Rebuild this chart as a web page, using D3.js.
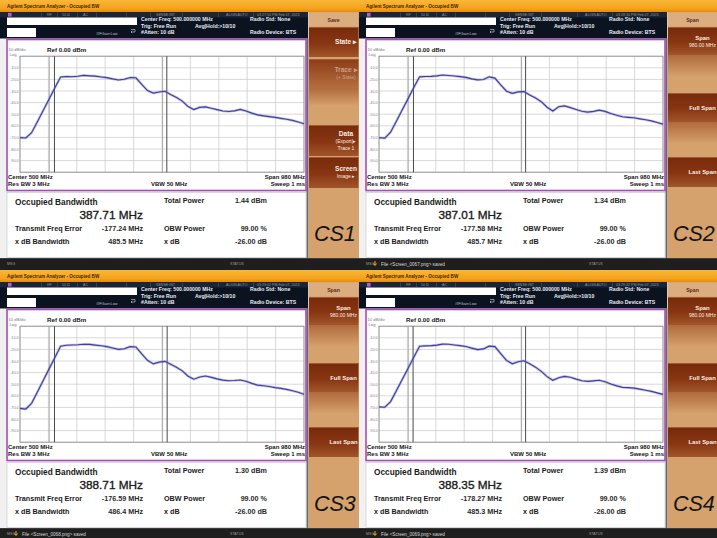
<!DOCTYPE html>
<html><head><meta charset="utf-8">
<script src="https://cdn.jsdelivr.net/npm/d3@7"></script>
<style>
html,body{margin:0;padding:0;background:#1a1a1a;}
svg{display:block;font-family:"Liberation Sans",Arial,sans-serif;}
</style></head><body>
<svg id="chart" width="717" height="538"></svg>
<script>
// Sweep points (MHz) shared by all four traces
const sweepFreqMHz = [10,30,50,70,90,110,130,150,170,190,210,230,250,270,290,310,330,350,370,390,
  410,430,450,470,490,510,530,550,570,590,610,630,650,670,690,710,730,750,770,790,
  810,830,850,870,890,910,930,950,970,990];

// Averaged trace levels (dBm) for each capture
const traceCS1 = [-70.2,-70.5,-66.0,-56.5,-46.8,-37.2,-27.4,-17.9,-17.6,-17.7,-17.3,-16.5,-16.9,-17.2,-17.9,-18.5,-19.6,-20.5,-19.9,-18.4,
  -18.6,-24.3,-29.6,-31.8,-30.9,-30.2,-33.1,-35.6,-38.7,-43.4,-46.0,-44.1,-43.7,-44.9,-46.1,-47.2,-47.7,-47.1,-45.9,-47.3,
  -49.1,-50.6,-51.4,-52.1,-52.7,-53.6,-54.4,-55.3,-56.7,-58.2];
const traceCS2 = [-70.3,-70.6,-65.5,-56.0,-46.3,-36.8,-27.0,-17.8,-17.5,-17.4,-16.9,-16.2,-16.6,-17.1,-17.6,-18.3,-19.5,-20.4,-20.1,-17.8,
  -18.9,-24.8,-30.2,-32.0,-30.8,-30.5,-33.4,-36.0,-39.2,-44.0,-47.3,-43.6,-42.8,-44.3,-45.9,-47.5,-48.2,-47.6,-46.5,-47.6,
  -49.4,-50.9,-52.2,-52.7,-53.1,-54.0,-54.8,-55.8,-57.2,-58.6];
const traceCS3 = [-70.8,-71.4,-66.5,-56.8,-46.9,-37.0,-27.2,-17.2,-16.4,-16.2,-16.0,-15.6,-15.7,-16.3,-16.9,-17.6,-18.8,-20.0,-19.4,-17.6,
  -17.9,-23.9,-29.4,-32.5,-31.0,-30.3,-32.8,-35.4,-38.5,-43.1,-45.7,-43.8,-42.9,-44.1,-45.4,-46.5,-47.0,-46.8,-46.4,-47.4,
  -49.3,-50.8,-51.3,-52.0,-52.9,-53.6,-54.5,-55.6,-57.0,-58.7];
const traceCS4 = [-69.6,-69.9,-65.0,-55.6,-46.0,-36.5,-26.8,-17.3,-16.9,-16.8,-16.3,-15.4,-15.6,-16.2,-16.8,-17.5,-18.9,-20.2,-19.6,-17.2,
  -17.6,-23.6,-29.5,-32.4,-30.6,-29.8,-32.4,-35.3,-38.9,-43.5,-46.6,-44.4,-43.3,-44.0,-45.6,-47.0,-47.5,-47.1,-46.6,-47.9,
  -49.8,-51.4,-52.7,-53.0,-53.4,-54.3,-55.2,-56.2,-57.5,-58.8];

// Measurement results
const captureNames = ["CS1", "CS2", "CS3", "CS4"];
const totalPowerDbm = [1.44, 1.34, 1.30, 1.39];
const occupiedBwMHz = [387.71, 387.01, 388.71, 388.35];
const freqErrorMHz = [-177.24, -177.58, -176.59, -178.27];
const xdbBandwidthMHz = [485.5, 485.7, 486.4, 485.3];
const obwPowerPct = 99.00;
const xdbSettingDb = -26.00;

// Instrument settings
const centerFreqMHz = 500;
const spanMHz = 980;
const refLevelDbm = 0;
const dbPerDiv = 10;
const yTickLabels = ["-10.0", "-20.0", "-30.0", "-40.0", "-50.0", "-60.0", "-70.0", "-80.0", "-90.0"];
const guideFreqMHz = [111, 502];
const timestamps = ["03:27:50 PM Feb 07, 2023", "03:28:30 PM Feb 07, 2023", "03:29:02 PM Feb 07, 2023", "03:29:32 PM Feb 07, 2023"];
const statusMessages = ["", "File <Screen_0067.png> saved", "File <Screen_0068.png> saved", "File <Screen_0069.png> saved"];
const menuTitles = ["Save", "Span", "Span", "Span"];
const saveMenuLabels = [["State \u25B8"], ["Trace \u25B8", "(+ State)"], ["Data", "(Export)\u25B8", "Trace 1"], ["Screen", "Image \u25B8"]];
const spanMenuLabels = [["Span", "980.00 MHz"], ["Full Span"], ["Last Span"]];
const traces = [traceCS1, traceCS2, traceCS3, traceCS4];

const W = 359, H = 270;
const origins = [[0, 0], [359, 0], [0, 270], [359, 270]];

const svg = d3.select("#chart");
svg.append("rect").attr("width", 717).attr("height", 538).attr("fill", "#1a1a1a");
const defs = svg.append("defs");
function vgrad(id, stops) {
  const g = defs.append("linearGradient").attr("id", id)
    .attr("x1", 0).attr("y1", 0).attr("x2", 0).attr("y2", 1);
  stops.forEach(([o, c]) => g.append("stop").attr("offset", o).attr("stop-color", c));
}
vgrad("orange", [[0, "#f9b838"], [0.7, "#f4a31c"], [1, "#e48c0e"]]);
vgrad("key", [[0, "#772a0b"], [0.55, "#883612"], [1, "#a0552a"]]);
vgrad("keyDim", [[0, "#8c3c16"], [1, "#b46e40"]]);
vgrad("fade", [[0, "#b06a3c"], [1, "#d6a26d"]]);
defs.append("clipPath").attr("id", "panelClip").append("rect").attr("width", W).attr("height", H);

const x = d3.scaleLinear()
  .domain([centerFreqMHz - spanMHz / 2, centerFreqMHz + spanMHz / 2])
  .range([20, 304]);
const y = d3.scaleLinear()
  .domain([refLevelDbm, refLevelDbm - 10 * dbPerDiv])
  .range([56.2, 172.2]);

function txt(g, s, px, py, size, opts = {}) {
  const t = g.append("text").attr("x", px).attr("y", py).text(s)
    .attr("font-size", size)
    .attr("font-weight", opts.w || "normal")
    .attr("font-style", opts.i ? "italic" : "normal")
    .attr("text-anchor", opts.a || "start")
    .attr("fill", opts.c || "#111");
  if (opts.s) t.attr("stroke", opts.c || "#111").attr("stroke-width", opts.s);
  return t;
}

function drawPanel(i) {
  const [ox, oy] = origins[i];
  const g = svg.append("g").attr("transform", `translate(${ox},${oy})`).attr("clip-path", "url(#panelClip)");

  // body
  g.append("rect").attr("width", W).attr("height", H).attr("fill", "#f1f1f1");

  // title bar
  g.append("rect").attr("width", W).attr("height", 12).attr("fill", "url(#orange)");
  txt(g, "Agilent Spectrum Analyzer - Occupied BW", 7, 8, 4.6, { w: "bold", c: "#4a2300" });

  // instrument header
  g.append("rect").attr("y", 12).attr("width", 308).attr("height", 26.5).attr("fill", "#0b1321");
  g.append("rect").attr("y", 12).attr("width", 308).attr("height", 5.5).attr("fill", "#1c2535");
  [41, 57, 77, 96, 126, 150, 182, 218, 253].forEach(sx =>
    g.append("rect").attr("x", sx).attr("y", 12.5).attr("width", 0.6).attr("height", 4.5).attr("fill", "#4a5468"));
  g.append("rect").attr("x", 8).attr("y", 12.8).attr("width", 3.6).attr("height", 3.8).attr("fill", "#b45ad2");
  const stc = "#8a93a3";
  txt(g, "RF", 47, 16.2, 3.6, { c: stc });
  txt(g, "50 \u03A9", 62, 16.2, 3.6, { c: stc });
  txt(g, "AC", 83, 16.2, 3.6, { c: stc });
  txt(g, "SENSE:INT", 156, 16.2, 3.6, { c: stc });
  txt(g, "ALIGN AUTO", 226, 16.2, 3.6, { c: stc });
  txt(g, timestamps[i], 257, 16.2, 3.6, { c: stc });
  g.append("rect").attr("x", 7).attr("y", 17.5).attr("width", 130).attr("height", 7.5).attr("fill", "#fff");
  g.append("rect").attr("x", 7).attr("y", 28).attr("width", 29).attr("height", 9).attr("fill", "#fff");
  txt(g, "#IFGain:Low", 96, 35, 3.8, { c: "#b8c0cc" });
  g.append("path").attr("d", "M131,29.5 h4 v2.5 h-4 M131,32 l1.2,-1 M131,32 l1.2,1")
    .attr("stroke", "#d0d6e0").attr("stroke-width", 0.6).attr("fill", "none");
  const hc = "#e8ecf3";
  txt(g, "Center Freq: 500.000000 MHz", 141, 21.2, 5.2, { w: "bold", c: hc });
  txt(g, "Trig: Free Run", 141, 27.6, 5.2, { w: "bold", c: hc });
  txt(g, "Avg|Hold:>10/10", 195, 27.6, 5.2, { w: "bold", c: hc });
  txt(g, "#Atten: 10 dB", 141, 34, 5.2, { w: "bold", c: hc });
  txt(g, "Radio Std: None", 250, 21.2, 5.2, { w: "bold", c: hc });
  txt(g, "Radio Device: BTS", 250, 34, 5.2, { w: "bold", c: hc });

  // separator before the softkey column
  g.append("rect").attr("x", 306.5).attr("y", 38).attr("width", 2).attr("height", 220).attr("fill", "#6a6a6a");

  // plot frame
  g.append("rect").attr("x", 7).attr("y", 39.5).attr("width", 299).attr("height", 151)
    .attr("fill", "#fff").attr("stroke", "#a64bbb").attr("stroke-width", 1.6);

  txt(g, `${dbPerDiv} dB/div`, 8.5, 51.2, 4.2, { c: "#777" });
  txt(g, "Log", 9.5, 55.7, 4.2, { c: "#777" });
  txt(g, "Ref 0.00 dBm", 47, 51.7, 6.2, { w: "bold", c: "#151515" });

  // graticule
  const grid = g.append("g");
  const vLines = d3.range(0, 11).map(k => x.domain()[0] + k * spanMHz / 10);
  const hLines = d3.range(0, 11).map(k => refLevelDbm - k * dbPerDiv);
  grid.selectAll("line.v").data(vLines).join("line")
    .attr("x1", d => x(d)).attr("x2", d => x(d)).attr("y1", y.range()[0]).attr("y2", y.range()[1])
    .attr("stroke", "#c8c8c8").attr("stroke-width", 0.7);
  grid.selectAll("line.h").data(hLines).join("line")
    .attr("y1", d => y(d)).attr("y2", d => y(d)).attr("x1", x.range()[0]).attr("x2", x.range()[1])
    .attr("stroke", "#c8c8c8").attr("stroke-width", 0.7);
  grid.append("rect").attr("x", x.range()[0]).attr("y", y.range()[0])
    .attr("width", x.range()[1] - x.range()[0]).attr("height", y.range()[1] - y.range()[0])
    .attr("fill", "none").attr("stroke", "#8a8a8a").attr("stroke-width", 0.8);
  yTickLabels.forEach(lbl => txt(g, lbl, 10, y(+lbl) + 1.5, 3.8, { c: "#858585" }));

  // reference guides and occupied-bandwidth edges
  guideFreqMHz.forEach(f => g.append("line").attr("x1", x(f)).attr("x2", x(f))
    .attr("y1", y.range()[0]).attr("y2", y.range()[1]).attr("stroke", "#9a9a9a").attr("stroke-width", 0.8));
  const obwCenter = centerFreqMHz + freqErrorMHz[i];
  [obwCenter - occupiedBwMHz[i] / 2, obwCenter + occupiedBwMHz[i] / 2].forEach(f =>
    g.append("line").attr("x1", x(f)).attr("x2", x(f))
      .attr("y1", y.range()[0]).attr("y2", y.range()[1]).attr("stroke", "#4a4a4a").attr("stroke-width", 1));

  // trace
  const pts = sweepFreqMHz.map((f, k) => ({ f, v: traces[i][k] }));
  const line = d3.line().x(d => x(d.f)).y(d => y(d.v));
  g.append("path").datum(pts).attr("d", line).attr("fill", "none")
    .attr("stroke", "#7f80c4").attr("stroke-width", 2.6).attr("stroke-opacity", 0.45);
  g.append("path").datum(pts).attr("d", line).attr("fill", "none")
    .attr("stroke", "#3f40a0").attr("stroke-width", 1.15);

  // lower annotations
  txt(g, `Center  ${centerFreqMHz} MHz`, 8, 178.8, 6, { w: "bold", c: "#151515" });
  txt(g, "Res BW  3 MHz", 8, 186, 6, { w: "bold", c: "#151515" });
  txt(g, "VBW  50 MHz", 151, 186, 6, { w: "bold", c: "#151515" });
  txt(g, `Span ${spanMHz} MHz`, 305, 178.8, 6, { w: "bold", c: "#151515", a: "end" });
  txt(g, "Sweep  1 ms", 305, 186, 6, { w: "bold", c: "#151515", a: "end" });

  // results panel
  g.append("rect").attr("x", 7).attr("y", 192.5).attr("width", 299).attr("height", 65)
    .attr("fill", "#fff").attr("stroke", "#c4c4c4").attr("stroke-width", 0.6);
  const rc = "#1a1a1a", vc = "#2a2a2a";
  txt(g, "Occupied Bandwidth", 15, 205, 8.3, { w: "bold", c: rc });
  txt(g, "Total Power", 164, 203, 7.2, { w: "bold", c: rc });
  txt(g, `${totalPowerDbm[i].toFixed(2)} dBm`, 267, 203, 7.2, { w: "bold", c: vc, a: "end" });
  txt(g, `${occupiedBwMHz[i].toFixed(2)} MHz`, 143, 218.5, 11.8, { c: rc, a: "end", s: 0.35 });
  txt(g, "Transmit Freq Error", 15, 231, 7.2, { w: "bold", c: rc });
  txt(g, `${freqErrorMHz[i].toFixed(2)} MHz`, 143, 231, 7.2, { w: "bold", c: vc, a: "end" });
  txt(g, "OBW Power", 164, 231, 7.2, { w: "bold", c: rc });
  txt(g, `${obwPowerPct.toFixed(2)} %`, 267, 231, 7.2, { w: "bold", c: vc, a: "end" });
  txt(g, "x dB Bandwidth", 15, 243.5, 7.2, { w: "bold", c: rc });
  txt(g, `${xdbBandwidthMHz[i].toFixed(1)} MHz`, 143, 243.5, 7.2, { w: "bold", c: vc, a: "end" });
  txt(g, "x dB", 164, 243.5, 7.2, { w: "bold", c: rc });
  txt(g, `${xdbSettingDb.toFixed(2)} dB`, 267, 243.5, 7.2, { w: "bold", c: vc, a: "end" });

  // softkey column
  const col = g.append("g");
  col.append("rect").attr("x", 308.5).attr("y", 12).attr("width", 51).attr("height", 246).attr("fill", "#d5a16c");
  col.append("rect").attr("x", 309).attr("y", 12.5).attr("width", 49.5).attr("height", 14).attr("fill", "#dcae7f");
  txt(col, menuTitles[i], 333.5, 21.5, 5.2, { w: "bold", c: "#5b2c10", a: "middle" });
  const keys = i === 0
    ? [{ t: 27, b: 57, fade: 0, dim: false }, { t: 59, b: 88, fade: 18, dim: true },
       { t: 125, b: 156, fade: 0, dim: false }, { t: 157, b: 188, fade: 0, dim: false }]
    : [{ t: 27, b: 55, fade: 22, dim: false }, { t: 93, b: 122, fade: 22, dim: false },
       { t: 157, b: 187, fade: 0, dim: false }];
  const labels = i === 0 ? saveMenuLabels : spanMenuLabels;
  const keyCx = i === 0 ? 346 : 343.5;
  const keyFs = i === 0 ? 6.6 : 5.9;
  keys.forEach((k, j) => {
    col.append("rect").attr("x", 309).attr("y", k.t).attr("width", 49.5).attr("height", k.b - k.t)
      .attr("fill", k.dim ? "url(#keyDim)" : "url(#key)");
    col.append("rect").attr("x", 309).attr("y", k.t).attr("width", 49.5).attr("height", 0.8).attr("fill", "#a9643a");
    if (k.fade) col.append("rect").attr("x", 309).attr("y", k.b).attr("width", 49.5).attr("height", k.fade)
      .attr("fill", "url(#fade)");
    const ls = labels[j];
    const mid = (k.t + k.b) / 2;
    const start = mid - (ls.length - 1) * 3.4 + 2.2;
    ls.forEach((s, n) => {
      const first = n === 0;
      txt(col, s, keyCx, start + n * 6.8, first ? keyFs : 5.0,
        { w: first ? "bold" : "normal", c: k.dim ? "#c9a08a" : "#fbeee4", a: "middle" });
    });
  });
  txt(col, captureNames[i], 314, 241, 21.5, { i: true, c: "#141414" });

  // status line
  g.append("rect").attr("y", 258).attr("width", W).attr("height", 12).attr("fill", "#1e1e1e");
  g.append("rect").attr("y", 258).attr("width", W).attr("height", 0.8).attr("fill", "#444");
  txt(g, "MSG", 7, 265, 3.6, { c: "#9a9a9a" });
  if (statusMessages[i]) {
    g.append("path").attr("d", "M16,261 v4 M14.3,263.5 l1.7,2 l1.7,-2")
      .attr("stroke", "#f0b020").attr("stroke-width", 1).attr("fill", "none");
    txt(g, statusMessages[i], 22, 265.5, 4.6, { c: "#d8d8d8" });
  }
  txt(g, "STATUS", 230, 265, 3.6, { c: "#9a9a9a" });
}

[0, 1, 2, 3].forEach(drawPanel);
</script>
</body></html>
